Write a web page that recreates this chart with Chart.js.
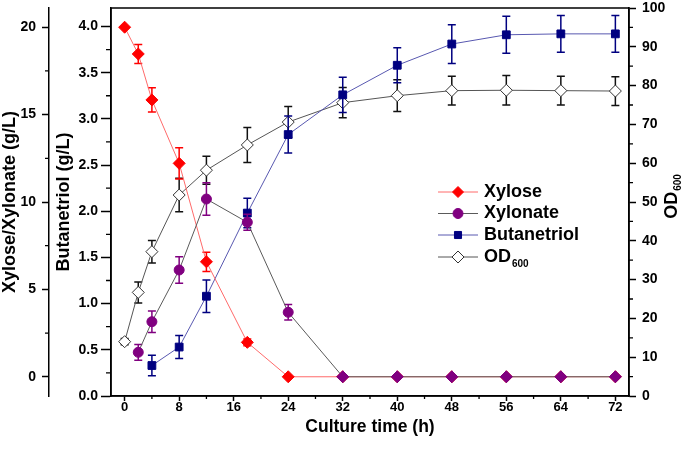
<!DOCTYPE html>
<html>
<head>
<meta charset="utf-8">
<script src="https://cdn.jsdelivr.net/npm/chart.js@4.4.0/dist/chart.umd.min.js"></script>
<style>
  html, body { margin: 0; padding: 0; background: #fff; }
</style>
</head>
<body>
<canvas id="myChart" width="685" height="454"></canvas>
<script>
// sampling times (h) and values
const xyloseTime = [0, 2, 4, 8, 12, 18, 24, 32, 40, 48, 56, 64, 72];
const xyloseVal = [20.0, 18.47, 15.84, 12.21, 6.58, 1.97, 0, 0, 0, 0, 0, 0, 0];
const xyloseErr = [0, 0.54, 0.69, 0.9, 0.55, 0.19, 0, 0, 0, 0, 0, 0, 0];

const xylonateTime = [2, 4, 8, 12, 18, 24, 32, 40, 48, 56, 64, 72];
const xylonateVal = [1.40, 3.15, 6.11, 10.17, 8.84, 3.69, 0, 0, 0, 0, 0, 0];
const xylonateErr = [0.45, 0.61, 0.76, 0.93, 0.46, 0.44, 0, 0, 0, 0, 0, 0];

const butanetriolTime = [4, 8, 12, 18, 24, 32, 40, 48, 56, 64, 72];
const butanetriolVal = [0.33, 0.53, 1.08, 1.98, 2.83, 3.26, 3.58, 3.81, 3.91, 3.92, 3.92];
const butanetriolErr = [0.11, 0.125, 0.175, 0.16, 0.2, 0.19, 0.19, 0.21, 0.2, 0.2, 0.2];

const odTime = [0, 2, 4, 8, 12, 18, 24, 32, 40, 48, 56, 64, 72];
const odVal = [14.0, 26.7, 37.2, 51.8, 58.2, 64.7, 70.6, 75.6, 77.4, 78.7, 78.8, 78.7, 78.6];
const odErr = [0.8, 2.7, 2.9, 4.3, 3.6, 4.5, 4.0, 3.9, 4.1, 3.7, 3.8, 3.7, 3.7];

// tick labels
const xTicks = [0, 8, 16, 24, 32, 40, 48, 56, 64, 72];
const xMinor = [4, 12, 20, 28, 36, 44, 52, 60, 68];
const xylTicks = [0, 5, 10, 15, 20];
const xylMinor = [2.5, 7.5, 12.5, 17.5];
const butTicks = [0, 0.5, 1.0, 1.5, 2.0, 2.5, 3.0, 3.5, 4.0];
const butMinor = [0.25, 0.75, 1.25, 1.75, 2.25, 2.75, 3.25, 3.75];
const odTicks = [0, 10, 20, 30, 40, 50, 60, 70, 80, 90, 100];
const odMinor = [5, 15, 25, 35, 45, 55, 65, 75, 85, 95];

const FONT = "'Liberation Sans', Arial, sans-serif";
Chart.defaults.font.family = FONT;
Chart.defaults.color = '#000';

function pairs(xs, ys) {
  return xs.map((x, i) => ({ x: x, y: ys[i] }));
}

function fixTicks(list) {
  return function (scale) {
    scale.ticks = list.map(v => ({ value: v }));
  };
}

function fixSize(prop, size) {
  return function (scale) {
    scale[prop] = size;
    scale.paddingTop = 0;
    scale.paddingBottom = 0;
    scale.paddingLeft = 0;
    scale.paddingRight = 0;
  };
}

// error bars go under each dataset's markers
const errorBars = {
  id: 'errorBars',
  beforeDatasetDraw(chart, args) {
    const ds = chart.data.datasets[args.index];
    if (!ds.errors) return;
    const yScale = chart.scales[ds.yAxisID];
    const ctx = chart.ctx;
    ctx.save();
    ctx.strokeStyle = ds.errorColor;
    ctx.lineWidth = 1.5;
    args.meta.data.forEach((pt, i) => {
      const e = ds.errors[i];
      if (!e) return;
      const v = ds.data[i].y;
      const y1 = yScale.getPixelForValue(v + e);
      const y2 = yScale.getPixelForValue(v - e);
      ctx.beginPath();
      ctx.moveTo(pt.x, y1); ctx.lineTo(pt.x, y2);
      ctx.moveTo(pt.x - 4, y1); ctx.lineTo(pt.x + 4, y1);
      ctx.moveTo(pt.x - 4, y2); ctx.lineTo(pt.x + 4, y2);
      ctx.stroke();
    });
    ctx.restore();
  }
};

// frame, minor ticks, OD600 axis title and the legend
const decorations = {
  id: 'decorations',
  afterDraw(chart) {
    const { ctx, chartArea: a, scales } = chart;
    ctx.save();
    ctx.strokeStyle = '#000';
    ctx.lineWidth = 1.5;
    ctx.strokeRect(a.left, a.top, a.right - a.left, a.bottom - a.top);

    const minor = [
      [scales.x, xMinor, 3],
      [scales.yXyl, xylMinor, 4],
      [scales.yBut, butMinor, 5],
      [scales.yOD, odMinor, 4]
    ];
    ctx.lineWidth = 1.3;
    ctx.beginPath();
    minor.forEach(([s, vals, len]) => {
      vals.forEach(v => {
        const p = s.getPixelForValue(v);
        if (s.position === 'bottom') { ctx.moveTo(p, s.top); ctx.lineTo(p, s.top + len); }
        else if (s.position === 'left') { ctx.moveTo(s.right, p); ctx.lineTo(s.right - len, p); }
        else { ctx.moveTo(s.left, p); ctx.lineTo(s.left + len, p); }
      });
    });
    ctx.stroke();

    // right axis title OD600 (with subscript)
    ctx.fillStyle = '#000';
    ctx.textBaseline = 'middle';
    ctx.textAlign = 'left';
    ctx.save();
    ctx.translate(672, 197);
    ctx.rotate(-Math.PI / 2);
    ctx.font = 'bold 18px ' + FONT;
    const wOD = ctx.measureText('OD').width;
    ctx.font = 'bold 10px ' + FONT;
    const w600 = ctx.measureText('600').width;
    const x0 = -(wOD + w600) / 2;
    ctx.font = 'bold 18px ' + FONT;
    ctx.fillText('OD', x0, 0);
    ctx.font = 'bold 10px ' + FONT;
    ctx.fillText('600', x0 + wOD + 1, 6);
    ctx.restore();

    // legend
    const rowY = [192, 213.5, 235, 257];
    chart.data.datasets.forEach((ds, i) => {
      const y = rowY[i];
      ctx.strokeStyle = ds.borderColor;
      ctx.lineWidth = 1;
      ctx.beginPath();
      ctx.moveTo(438, y); ctx.lineTo(478, y);
      ctx.stroke();
      ctx.fillStyle = ds.legendFill;
      ctx.strokeStyle = ds.legendStroke;
      Chart.helpers.drawPoint(ctx, {
        pointStyle: ds.legendStyle, radius: ds.legendRadius, rotation: 0, borderWidth: 1
      }, 458, y);
      ctx.fillStyle = '#000';
      ctx.font = 'bold 18px ' + FONT;
      ctx.textBaseline = 'middle';
      ctx.fillText(ds.legendText, 484, y);
      if (ds.legendSub) {
        const w = ctx.measureText(ds.legendText).width;
        ctx.font = 'bold 10px ' + FONT;
        ctx.fillText(ds.legendSub, 484 + w + 1, y + 7);
      }
    });
    ctx.restore();
  }
};

const canvas = document.getElementById('myChart');
const ctx = canvas.getContext('2d');

new Chart(ctx, {
  type: 'line',
  data: {
    datasets: [
      {
        label: 'Xylose',
        legendText: 'Xylose',
        data: pairs(xyloseTime, xyloseVal),
        errors: xyloseErr,
        errorColor: '#ff0000',
        yAxisID: 'yXyl',
        order: 1,
        borderColor: '#ff6a6a',
        borderWidth: 1,
        pointStyle: 'rectRot',
        pointRadius: 6,
        pointBackgroundColor: '#ff0000',
        pointBorderColor: '#ff0000',
        pointBorderWidth: 1,
        legendStyle: 'rectRot', legendRadius: 5.5, legendFill: '#ff0000', legendStroke: '#ff0000'
      },
      {
        label: 'Xylonate',
        legendText: 'Xylonate',
        data: pairs(xylonateTime, xylonateVal),
        errors: xylonateErr,
        errorColor: '#800080',
        yAxisID: 'yXyl',
        order: 0,
        borderColor: '#5a5a5a',
        borderWidth: 1,
        pointStyle: xylonateVal.map(v => v === 0 ? 'rectRot' : 'circle'),
        pointRadius: xylonateVal.map(v => v === 0 ? 6 : 5),
        pointBackgroundColor: '#800080',
        pointBorderColor: '#800080',
        pointBorderWidth: 1,
        legendStyle: 'circle', legendRadius: 5, legendFill: '#800080', legendStroke: '#800080'
      },
      {
        label: 'Butanetriol',
        legendText: 'Butanetriol',
        data: pairs(butanetriolTime, butanetriolVal),
        errors: butanetriolErr,
        errorColor: '#000080',
        yAxisID: 'yBut',
        order: 2,
        borderColor: '#5858b0',
        borderWidth: 1,
        pointStyle: 'rect',
        pointRadius: 5.5,
        pointBackgroundColor: '#000080',
        pointBorderColor: '#000080',
        pointBorderWidth: 1,
        legendStyle: 'rect', legendRadius: 5, legendFill: '#000080', legendStroke: '#000080'
      },
      {
        label: 'OD600',
        legendText: 'OD',
        legendSub: '600',
        data: pairs(odTime, odVal),
        errors: odErr,
        errorColor: '#111111',
        yAxisID: 'yOD',
        order: 3,
        borderColor: '#555555',
        borderWidth: 1,
        pointStyle: 'rectRot',
        pointRadius: 6,
        pointBackgroundColor: '#ffffff',
        pointBorderColor: '#333333',
        pointBorderWidth: 1,
        legendStyle: 'rectRot', legendRadius: 6, legendFill: '#ffffff', legendStroke: '#333333'
      }
    ]
  },
  options: {
    responsive: false,
    animation: false,
    layout: { padding: { top: 8, left: 0, right: 0, bottom: 0 } },
    plugins: {
      legend: { display: false },
      tooltip: { enabled: false }
    },
    scales: {
      x: {
        type: 'linear',
        position: 'bottom',
        min: -2,
        max: 74,
        afterBuildTicks: fixTicks(xTicks),
        afterFit: fixSize('height', 58),
        grid: { drawOnChartArea: false, tickLength: 5, tickColor: '#000', tickWidth: 1.5 },
        border: { color: '#000', width: 1.5 },
        ticks: { font: { size: 13, weight: 'bold', lineHeight: 1 }, padding: 0, maxRotation: 0, autoSkip: false },
        title: {
          display: true, text: 'Culture time (h)',
          font: { size: 17.5, weight: 'bold', lineHeight: 1 },
          padding: { top: 0, bottom: 18 }
        }
      },
      yXyl: {
        type: 'linear',
        position: 'left',
        weight: 2,
        min: -1.1,
        max: 21.1,
        afterBuildTicks: fixTicks(xylTicks),
        afterFit: fixSize('width', 49),
        grid: { drawOnChartArea: false, tickLength: 7, tickColor: '#000', tickWidth: 1.5 },
        border: { color: '#000', width: 1.5 },
        ticks: { font: { size: 14, weight: 'bold' }, padding: 6 },
        title: {
          display: true, text: 'Xylose/Xylonate (g/L)',
          font: { size: 18, weight: 'bold', lineHeight: 1 },
          padding: { top: 1, bottom: 0 }
        }
      },
      yBut: {
        type: 'linear',
        position: 'left',
        weight: 1,
        min: 0,
        max: 4.2,
        afterBuildTicks: fixTicks(butTicks),
        afterFit: fixSize('width', 62),
        grid: { drawOnChartArea: false, tickLength: 10, tickColor: '#000', tickWidth: 1.5 },
        border: { color: '#000', width: 1.5 },
        ticks: { font: { size: 14, weight: 'bold' }, padding: 3, callback: v => v.toFixed(1) },
        title: {
          display: true, text: 'Butanetriol (g/L)',
          font: { size: 18, weight: 'bold', lineHeight: 1 },
          padding: { top: 6, bottom: 0 }
        }
      },
      yOD: {
        type: 'linear',
        position: 'right',
        min: 0,
        max: 100,
        afterBuildTicks: fixTicks(odTicks),
        afterFit: fixSize('width', 56),
        grid: { drawOnChartArea: false, tickLength: 7, tickColor: '#000', tickWidth: 1.5 },
        border: { color: '#000', width: 1.5 },
        ticks: { font: { size: 14, weight: 'bold' }, padding: 6 }
      }
    }
  },
  plugins: [errorBars, decorations]
});
</script>
</body>
</html>
